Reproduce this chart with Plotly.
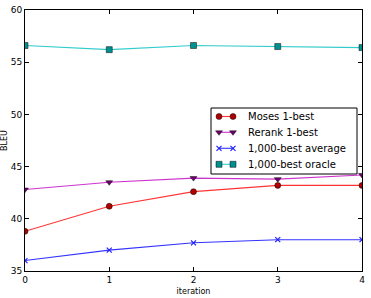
import plotly.graph_objects as go

iterations = [0, 1, 2, 3, 4]
moses = [38.8, 41.2, 42.6, 43.2, 43.2]
rerank = [42.8, 43.5, 43.9, 43.8, 44.2]
avg = [36.0, 37.0, 37.7, 38.0, 38.0]
oracle = [56.6, 56.2, 56.6, 56.5, 56.4]

names = ["Moses 1-best", "Rerank 1-best", "1,000-best average", "1,000-best oracle"]
series_vals = [moses, rerank, avg, oracle]

line_colors = ["rgba(255,0,0,0.8)", "rgba(191,0,191,0.8)", "rgba(0,0,255,0.8)", "rgba(0,191,191,0.8)"]
marker_colors = ["#b00000", "#700070", "#2020ff", "#009090"]
symbols = ["circle", "triangle-down", "x-thin", "square"]

W, H = 371, 298
ML, MR, MT, MB = 25, 9, 10, 27


def marker_for(i):
    if symbols[i] == "x-thin":
        return dict(symbol="x-thin", size=5, color=marker_colors[i], line=dict(color=marker_colors[i], width=1.2))
    return dict(symbol=symbols[i], size=6, color=marker_colors[i], line=dict(color="rgba(0,0,0,0.6)", width=0.8))


fig = go.Figure()
for i, (name, vals) in enumerate(zip(names, series_vals)):
    fig.add_trace(go.Scatter(x=iterations, y=vals, name=name, mode="lines+markers", showlegend=False,
                             line=dict(color=line_colors[i], width=1.1), marker=marker_for(i)))

# Legend drawn in a pixel-based overlay axis (matplotlib-style compact legend)
box_l, box_r, box_t, box_b = 211, 357, 108, 174
fig.add_shape(type="rect", xref="x2", yref="y2", x0=box_l, x1=box_r, y0=H - box_t, y1=H - box_b,
              line=dict(color="black", width=1), fillcolor="white", layer="below")
row_y = [116.5, 132.3, 148.3, 164.3]
for i, name in enumerate(names):
    yy = H - row_y[i]
    fig.add_trace(go.Scatter(x=[219, 233], y=[yy, yy], xaxis="x2", yaxis="y2", mode="lines+markers",
                             showlegend=False, hoverinfo="skip", cliponaxis=False,
                             line=dict(color=line_colors[i], width=1.1), marker=marker_for(i)))
    fig.add_annotation(x=246, y=yy, xref="x2", yref="y2", text=name, showarrow=False,
                       xanchor="left", yanchor="middle", font=dict(size=10, color="black"))

axis_common = dict(showgrid=False, zeroline=False, showline=True, linecolor="black", linewidth=1,
                   mirror="allticks", ticks="inside", ticklen=4, tickcolor="black",
                   tickfont=dict(size=9, color="black"), automargin=False)
fig.update_xaxes(range=[0, 4], dtick=1, title=dict(text="iteration", font=dict(size=8), standoff=4), **axis_common)
fig.update_yaxes(range=[35, 60], dtick=5, title=dict(text="BLEU", font=dict(size=8), standoff=2), **axis_common)

fig.update_layout(
    xaxis2=dict(overlaying="x", range=[ML, W - MR], visible=False, fixedrange=True),
    yaxis2=dict(overlaying="y", range=[MB, H - MT], visible=False, fixedrange=True),
    width=W, height=H,
    margin=dict(l=ML, r=MR, t=MT, b=MB),
    paper_bgcolor="white", plot_bgcolor="white",
    font=dict(family="DejaVu Sans", color="black"),
    showlegend=False,
)
fig.write_html("out.html")
